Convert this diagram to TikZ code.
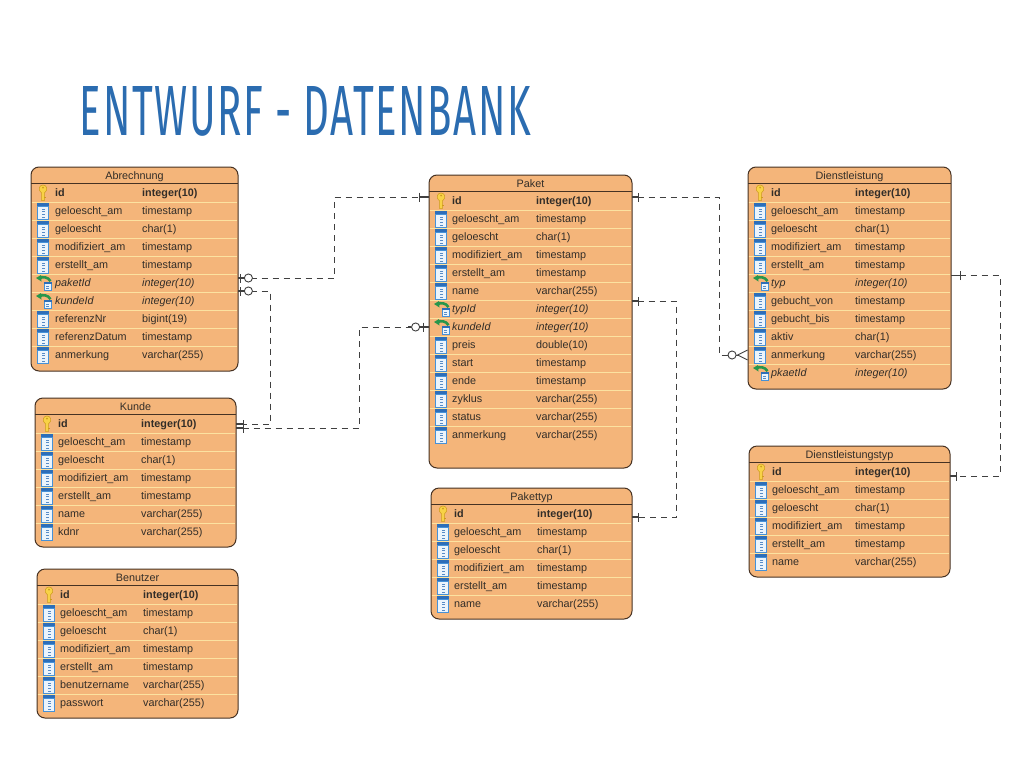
\documentclass[tikz,border=0pt]{standalone}
\usepackage{fontspec}
\usepackage{graphicx}
\setmainfont{Liberation Sans}
\newfontfamily\titlefont[LetterSpace = 4]{Fira Sans}
\usetikzlibrary{arrows.meta}
\definecolor{titleblue}{RGB}{43, 108, 176}
\definecolor{tableorange}{RGB}{244, 181, 122}
\definecolor{tableline}{RGB}{252, 226, 160}
\definecolor{tableborder}{RGB}{70, 50, 35}
\definecolor{rowtext}{RGB}{50, 45, 40}
\definecolor{iconblue}{RGB}{70, 145, 215}
\definecolor{icondark}{RGB}{45, 110, 185}
\definecolor{iconpale}{RGB}{235, 244, 252}
\definecolor{keyyellow}{RGB}{248, 210, 70}
\definecolor{keyedge}{RGB}{205, 155, 30}
\definecolor{fkgreen}{RGB}{40, 150, 75}
\tikzset{
	dbtable/.style = {draw = tableborder, fill = tableorange, line width = 1pt, rounded corners = 8pt, inner sep = 0pt, outer sep = 0pt},
	dbtitle/.style = {font = \fontsize{10.8}{13}\selectfont, text = rowtext, anchor = base, inner sep = 0pt},
	dbrow/.style = {font = \fontsize{10.8}{13}\selectfont, text = rowtext, anchor = base west, inner sep = 0pt},
	rel/.style = {dashed, dash pattern = on 6pt off 5pt, line width = 1pt, draw = black!75},
	one/.tip = {Bar[width = 9pt, sep = 0pt, line width = 0.9pt] Rectangle[length = 6pt, width = 0.9pt, sep = 0pt]},
	onefar/.tip = {Bar[width = 9pt, sep = 0pt, line width = 0.9pt] Rectangle[length = 9pt, width = 0.9pt, sep = 0pt]},
	onetwo/.tip = {Bar[width = 9pt, sep = 0pt, line width = 0.9pt] Rectangle[length = 7pt, width = 0.9pt, sep = 0pt]},
	zeroone/.tip = {Circle[open, fill = white, length = 9pt, width = 9pt, sep = 0pt, line width = 0.9pt] Rectangle[length = 3pt, width = 0.9pt, sep = 0pt] Bar[width = 9pt, sep = 0pt, line width = 0.9pt] Rectangle[length = 2pt, width = 0.01pt, sep = 0pt]},
	zerooneend/.tip = {Rectangle[length = 3pt, width = 0.9pt, sep = 0pt] Circle[open, fill = white, length = 9pt, width = 9pt, sep = 0pt, line width = 0.9pt] Rectangle[length = 3pt, width = 0.9pt, sep = 0pt] Bar[width = 9pt, sep = 0pt, line width = 0.9pt] Rectangle[length = 5pt, width = 0.01pt, sep = 0pt]},
	zeromany/.tip = {Circle[open, fill = white, length = 9pt, width = 9pt, sep = 0pt, line width = 0.9pt] Straight Barb[reversed, length = 10pt, width = 10pt, sep = 0pt, line width = 0.9pt]}
}
\newcommand{\rowfontkey}{\bfseries}
\newcommand{\rowfontcol}{}
\newcommand{\rowfontfk}{\itshape}
\newcommand{\iconkey}[2]{
	\begin{scope}[shift = {(#1,#2)}]
		\fill[keyyellow, draw = keyedge, line width = 0.5pt] (-1.4,0) -- (-1.4,7.5) -- (1.4,7.5) -- (1.4,0) .. controls (5.5,-3) and (4,-8) .. (0,-8) .. controls (-4,-8) and (-5.5,-3) .. (-1.4,0) -- cycle;
		\fill[keyedge] (0,-5.5) circle (1);
		\fill[keyedge] (1.4,3.5) rectangle (3,4.5);
	\end{scope}
}
\newcommand{\iconcol}[2]{
	\begin{scope}[shift = {(#1,#2)}]
		\fill[iconblue] (-6,-8.5) rectangle (6,8.5);
		\fill[icondark] (-6,-8.5) rectangle (6,-5);
		\fill[iconpale] (-5,-4) rectangle (5,7.5);
		\foreach \dashy in {-2,0.7,3.4,6}
			\fill[icondark!80] (-1.2,\dashy-0.5) rectangle (1.8,\dashy+0.5);
	\end{scope}
}
\newcommand{\iconfk}[2]{
	\begin{scope}[shift = {(#1,#2)}]
		\fill[iconblue] (0.5,-1.5) rectangle (8.5,8);
		\fill[icondark] (0.5,-1.5) rectangle (8.5,0.5);
		\fill[iconpale] (1.5,1) rectangle (7.5,7.2);
		\fill[icondark!80] (3.2,2.5) rectangle (5.8,3.4);
		\fill[icondark!80] (3.2,4.8) rectangle (5.8,5.7);
		\draw[fkgreen, line width = 2.6pt] (7.5,-1.8) .. controls (5.5,-6) and (-1,-7) .. (-3.5,-4.5);
		\fill[fkgreen] (-7,-5) -- (-2,-8) -- (-1.5,-1.5) -- cycle;
	\end{scope}
}
\newcommand{\dbentity}[9]{
	\node (#1) at ({(#2+#4)/2},{(#3+#5)/2}) [dbtable, minimum width = {(#4-#2)*1pt}, minimum height = {(#5-#3)*1pt}] {};
	\node (#1-title) at ({(#2+#4)/2},#3+12) [dbtitle] {#6};
	\draw[tableborder, line width = 1pt] (#2,#3+16) -- (#4,#3+16);
	\foreach \kind/\cname/\ctype [count = \i] in {#9} {
		\pgfmathsetmacro{\rowy}{#3+26+18*(\i-1)}
		\ifnum\i>1
			\draw[tableline, line width = 0.9pt] (#2+0.6,\rowy-9) -- (#4-0.6,\rowy-9);
		\fi
		\csname icon\kind\endcsname{#2+12}{\rowy}
		\node (#1-n\i) at (#7,\rowy+3.8) [dbrow] {\csname rowfont\kind\endcsname \cname};
		\node (#1-t\i) at (#8,\rowy+3.8) [dbrow] {\csname rowfont\kind\endcsname \ctype};
	}
}
\begin{document}
\begin{tikzpicture}[x = 1pt, y = -1pt]
	\useasboundingbox (0,0) rectangle (1024,768);
	\node (title) at (305.5,111) [inner sep = 0pt, text = titleblue] {\resizebox{451pt}{49pt}{\fontsize{70}{70}\titlefont ENTWURF - DATENBANK}};
	\dbentity{abr}{31}{167}{238}{371}{Abrechnung}{55}{142}{key/id/integer(10), col/geloescht\_am/timestamp, col/geloescht/char(1), col/modifiziert\_am/timestamp, col/erstellt\_am/timestamp, fk/paketId/integer(10), fk/kundeId/integer(10), col/referenzNr/bigint(19), col/referenzDatum/timestamp, col/anmerkung/varchar(255)}
	\dbentity{kun}{35}{398}{236}{547}{Kunde}{58}{141}{key/id/integer(10), col/geloescht\_am/timestamp, col/geloescht/char(1), col/modifiziert\_am/timestamp, col/erstellt\_am/timestamp, col/name/varchar(255), col/kdnr/varchar(255)}
	\dbentity{ben}{37}{569}{238}{718}{Benutzer}{60}{143}{key/id/integer(10), col/geloescht\_am/timestamp, col/geloescht/char(1), col/modifiziert\_am/timestamp, col/erstellt\_am/timestamp, col/benutzername/varchar(255), col/passwort/varchar(255)}
	\dbentity{pak}{429}{175}{632}{468}{Paket}{452}{536}{key/id/integer(10), col/geloescht\_am/timestamp, col/geloescht/char(1), col/modifiziert\_am/timestamp, col/erstellt\_am/timestamp, col/name/varchar(255), fk/typId/integer(10), fk/kundeId/integer(10), col/preis/double(10), col/start/timestamp, col/ende/timestamp, col/zyklus/varchar(255), col/status/varchar(255), col/anmerkung/varchar(255)}
	\dbentity{pty}{431}{488}{632}{619}{Pakettyp}{454}{537}{key/id/integer(10), col/geloescht\_am/timestamp, col/geloescht/char(1), col/modifiziert\_am/timestamp, col/erstellt\_am/timestamp, col/name/varchar(255)}
	\dbentity{die}{748}{167}{951}{389}{Dienstleistung}{771}{855}{key/id/integer(10), col/geloescht\_am/timestamp, col/geloescht/char(1), col/modifiziert\_am/timestamp, col/erstellt\_am/timestamp, fk/typ/integer(10), col/gebucht\_von/timestamp, col/gebucht\_bis/timestamp, col/aktiv/char(1), col/anmerkung/varchar(255), fk/pkaetId/integer(10)}
	\dbentity{dty}{749}{446}{950}{577}{Dienstleistungstyp}{772}{855}{key/id/integer(10), col/geloescht\_am/timestamp, col/geloescht/char(1), col/modifiziert\_am/timestamp, col/erstellt\_am/timestamp, col/name/varchar(255)}
	\draw[rel, {zeroone}-{onefar}] ([yshift = -9pt]abr.east) -- ++(96,0) |- ([yshift = 124.5pt]pak.west);
	\draw[rel, {zeroone}-{onetwo}] ([yshift = -22pt]abr.east) -- ++(32,0) |- ([yshift = 48.5pt]kun.east);
	\draw[rel, {onetwo}-{zerooneend}] ([yshift = 44.5pt]kun.east) -- ++(123,0) |- ([yshift = -5.5pt]pak.west);
	\draw[rel, {one}-{zeromany}] ([yshift = 124.5pt]pak.east) -- ++(87,0) |- ([yshift = -77pt]die.west);
	\draw[rel, {one}-{one}] ([yshift = 20.5pt]pak.east) -- ++(44,0) |- ([yshift = 36.5pt]pty.east);
	\draw[rel, {onefar}-{one}] ([yshift = 2.5pt]die.east) -- ++(49,0) |- ([yshift = 35.5pt]dty.east);
\end{tikzpicture}
\end{document}
